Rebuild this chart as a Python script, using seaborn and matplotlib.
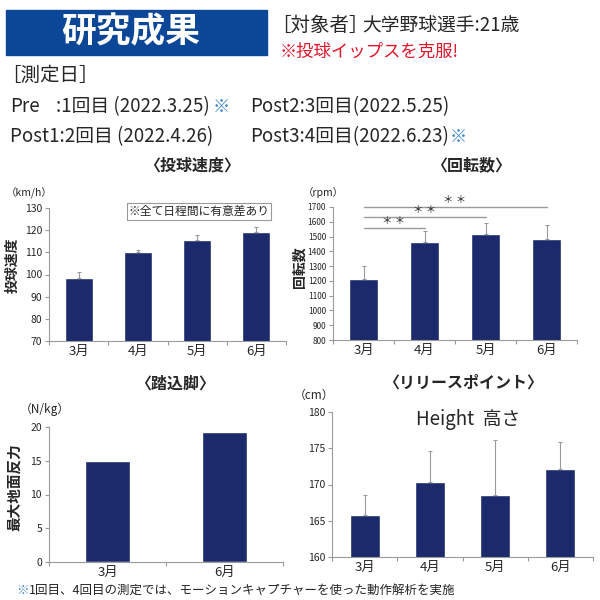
import matplotlib
matplotlib.use("Agg")
import matplotlib.pyplot as plt
import seaborn as sns
from matplotlib.patches import Rectangle

# data
months4 = ["3月", "4月", "5月", "6月"]
months2 = ["3月", "6月"]
speed = [98.5, 110.0, 115.7, 119.3]
speed_err = [2.8, 1.2, 2.3, 2.2]
spin = [1215, 1460, 1515, 1485]
spin_err = [85, 75, 75, 95]
spin_sig_to = [1, 2, 3]
spin_sig_y = [1560, 1632, 1700]
grf = [15.0, 19.3]
height = [165.8, 170.4, 168.5, 172.2]
height_err = [2.7, 4.2, 7.7, 3.6]

sns.set_theme(style="white")
plt.rcParams["font.family"] = ["Noto Sans CJK JP", "DejaVu Sans"]

NAVY = "#1c2a6b"
GRAY = "#9a9a9a"
BLUE_BOX = "#0b4697"
RED = "#e0162b"
BLUE = "#3a82c8"

fig = plt.figure(figsize=(6, 6), dpi=100)
renderer = fig.canvas.get_renderer()
W = H = 600.0


def fx(x):
    return x / W


def fy(y):
    return 1 - y / H


def add_ax(x0, y0, x1, y1):
    return fig.add_axes([fx(x0), fy(y1), (x1 - x0) / W, (y1 - y0) / H])


def after(t, s, gap=2, **kw):
    # put a text right after another one
    bb = t.get_window_extent(renderer)
    x, y = t.get_position()
    return fig.text(fx(bb.x1 + gap), y, s, ha="left", va="center", **kw)


def style_ax(ax, n, ylim, step, tsize):
    ax.set_ylim(*ylim)
    ax.set_yticks(range(ylim[0], ylim[1] + 1, step))
    ax.set_xlim(-0.5, n - 0.5)
    for s in ["top", "right"]:
        ax.spines[s].set_visible(False)
    for s in ["left", "bottom"]:
        ax.spines[s].set_color(GRAY)
        ax.spines[s].set_linewidth(0.8)
    ax.tick_params(axis="y", labelsize=tsize, length=3, width=0.8,
                   color=GRAY, pad=2, left=True, direction="out")
    ax.tick_params(axis="x", which="major", length=0, labelsize=9.5, pad=3)
    ax.set_xticks([i - 0.5 for i in range(n + 1)], minor=True)
    ax.tick_params(axis="x", which="minor", length=3, width=0.8,
                   color=GRAY, bottom=True, direction="out")
    ax.set_xlabel("")
    ax.set_ylabel("")


def bars(ax, cats, vals, errs, width):
    sns.barplot(x=cats, y=vals, color=NAVY, width=width, ax=ax,
                errorbar=None, saturation=1)
    if errs is not None:
        ax.errorbar(range(len(cats)), vals, yerr=[[0] * len(errs), errs],
                    fmt="none", ecolor=GRAY, elinewidth=0.8, capsize=1.5,
                    capthick=0.8)


# header
fig.patches.append(Rectangle((fx(6), fy(55)), fx(261), 45 / H,
                             transform=fig.transFigure, color=BLUE_BOX))
fig.text(fx(131), fy(32), "研究成果", color="white", fontsize=25,
         fontweight="bold", ha="center", va="center")
t = fig.text(fx(271), fy(25), "［対象者］", fontsize=14, ha="left",
             va="center")
after(t, "大学野球選手:21歳", gap=-6, fontsize=13.5)
fig.text(fx(280), fy(52), "※投球イップスを克服!", fontsize=12.5, color=RED,
         ha="left", va="center")
fig.text(fx(1), fy(75), "［測定日］", fontsize=14, ha="left", va="center")
fig.text(fx(10), fy(107), "Pre", fontsize=13.5, ha="left", va="center")
t = fig.text(fx(56), fy(107), ":1回目 (2022.3.25)", fontsize=13.5,
             ha="left", va="center")
after(t, "※", gap=3, fontsize=12.5, color=BLUE)
fig.text(fx(10), fy(137), "Post1:2回目 (2022.4.26)", fontsize=13.5,
         ha="left", va="center")
fig.text(fx(250), fy(107), "Post2:3回目(2022.5.25)", fontsize=13.5,
         ha="left", va="center")
t = fig.text(fx(250), fy(137), "Post3:4回目(2022.6.23)", fontsize=13.5,
             ha="left", va="center")
after(t, "※", gap=1, fontsize=12.5, color=BLUE)

# panel 1: speed
ax1 = add_ax(49, 208, 286, 341)
bars(ax1, months4, speed, speed_err, 0.47)
style_ax(ax1, 4, (70, 130), 10, 7.5)
ax1.text(0.633, 0.975, "※全て日程間に有意差あり", transform=ax1.transAxes,
         fontsize=8.5, ha="center", va="center",
         bbox=dict(boxstyle="square,pad=0.15", fc="white", ec=GRAY, lw=0.8))
fig.text(fx(192), fy(166), "〈投球速度〉", fontsize=11.5, fontweight="bold",
         ha="center", va="center")
fig.text(fx(6), fy(193), "（km/h）", fontsize=7.5, ha="left", va="center")
fig.text(fx(13), fy(265), "投球速度", fontsize=10, fontweight="bold",
         rotation=90, ha="center", va="center")

# panel 2: spin
ax2 = add_ax(333, 207, 577, 340)
bars(ax2, months4, spin, spin_err, 0.48)
style_ax(ax2, 4, (800, 1700), 100, 6)
for j, yv in zip(spin_sig_to, spin_sig_y):
    ax2.plot([0, j], [yv, yv], color=GRAY, lw=1, clip_on=False)
    ax2.text(j / 2, yv + 12, "＊ ＊", fontsize=7.5, ha="center", va="bottom",
             clip_on=False)
fig.text(fx(471), fy(165), "〈回転数〉", fontsize=11.5, fontweight="bold",
         ha="center", va="center")
fig.text(fx(303), fy(193), "（rpm）", fontsize=7.5, ha="left", va="center")
fig.text(fx(299), fy(267), "回転数", fontsize=10, fontweight="bold",
         rotation=90, ha="center", va="center")

# panel 3: ground reaction force
ax3 = add_ax(49, 427, 283, 562)
bars(ax3, months2, grf, None, 0.39)
style_ax(ax3, 2, (0, 20), 5, 7.5)
fig.text(fx(175), fy(384), "〈踏込脚〉", fontsize=11.5, fontweight="bold",
         ha="center", va="center")
fig.text(fx(20), fy(409), "（N/kg）", fontsize=8.5, ha="left", va="center")
fig.text(fx(14), fy(487), "最大地面反力", fontsize=10.5, fontweight="bold",
         rotation=90, ha="center", va="center")

# panel 4: release point height
ax4 = add_ax(332, 412, 593, 557)
bars(ax4, months4, height, height_err, 0.46)
style_ax(ax4, 4, (160, 180), 5, 7.5)
ax4.text(0.52, 0.945, "Height  高さ", transform=ax4.transAxes, fontsize=13.5,
         ha="center", va="center")
fig.text(fx(463), fy(383), "〈リリースポイント〉", fontsize=11.5,
         fontweight="bold", ha="center", va="center")
fig.text(fx(294), fy(395), "（cm）", fontsize=8.5, ha="left", va="center")

# footnote
t = fig.text(fx(16), fy(590), "※", fontsize=9, color=BLUE, ha="left",
             va="center")
after(t, "1回目、4回目の測定では、モーションキャプチャーを使った動作解析を実施",
      gap=0, fontsize=9)

fig.savefig("out.png", dpi=100)
